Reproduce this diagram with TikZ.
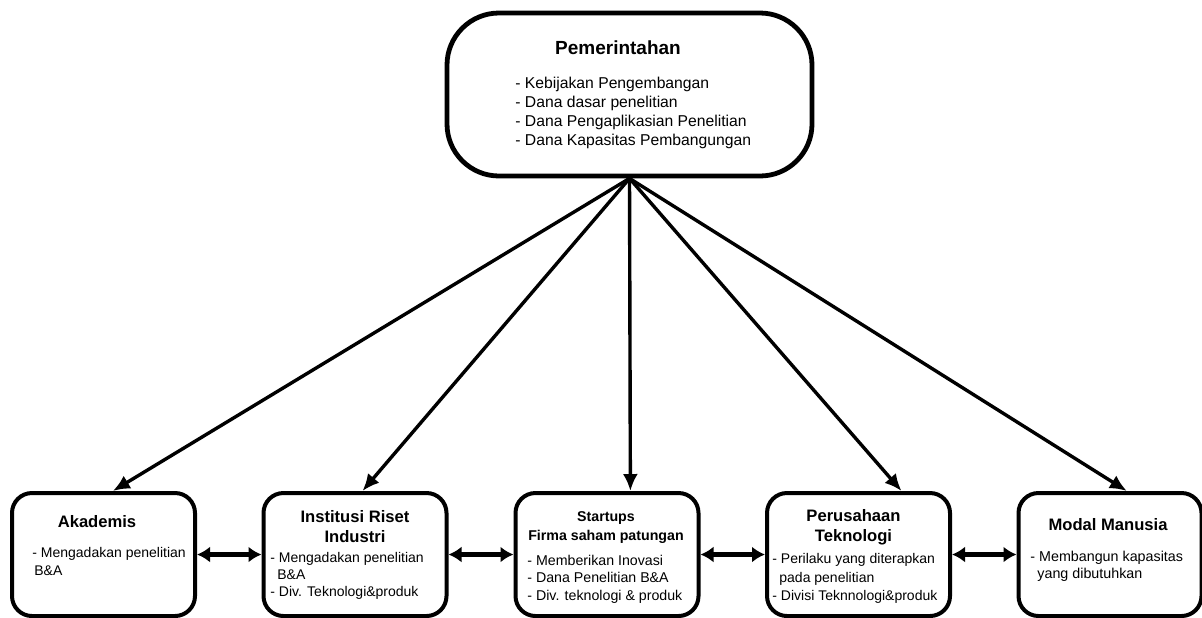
\documentclass[tikz,border=0pt]{standalone}
\usepackage{fontspec}
\setmainfont{Liberation Sans}
\usetikzlibrary{arrows.meta, calc}

\tikzset{
  govbox/.style={draw, line width=2.4pt, rounded corners=26pt,
    minimum width=182.5pt, minimum height=81.5pt, inner sep=0pt},
  unitbox/.style={draw, line width=2pt, rounded corners=10pt,
    minimum width=91.5pt, minimum height=61.5pt, inner sep=0pt},
  head/.style={font=\bfseries\fontsize{8.3}{10}\selectfont, align=center, inner sep=0pt},
  items/.style={font=\fontsize{7}{8.6}\selectfont, align=left, inner sep=0pt, anchor=west},
  down/.style={line width=1.7pt, -{Latex[length=8.5pt,width=7.5pt]}},
  link/.style={line width=2.2pt, {Latex[length=6.5pt,width=8pt]}-{Latex[length=6.5pt,width=8pt]}},
}
\newcommand{\ind}{\hspace*{3.5pt}}

\begin{document}
\begin{tikzpicture}[x=0.5pt, y=-0.5pt]
\useasboundingbox (0,0) rectangle (1202,617);

% top
\node[govbox] (gov) at (629.5,94.5) {};
\node[head, font=\bfseries\fontsize{9.5}{11}\selectfont] (govhead) at (618,48) {Pemerintahan};
\node[items, font=\fontsize{7.85}{9.5}\selectfont] (govlist) at (515,113)
  {- Kebijakan Pengembangan\\- Dana dasar penelitian\\- Dana Pengaplikasian Penelitian\\- Dana Kapasitas Pembangungan};

% units
\node[unitbox] (akad) at (103.5,554.5) {};
\node[unitbox] (riset) at (355,554.5) {};
\node[unitbox] (startup) at (607,554.5) {};
\node[unitbox] (tekno) at (858.5,554.5) {};
\node[unitbox] (modal) at (1110,554.5) {};

% unit texts
\node[head] (akadhead) at (97,522) {Akademis};
\node[items] (akadlist) at (32,561.5) {- Mengadakan penelitian\\\hspace*{1pt}B\&A};

\node[head] (risethead) at (355,527) {Institusi Riset\\Industri};
\node[items, font=\fontsize{7}{8.5}\selectfont] (risetlist) at (270,576)
  {- Mengadakan penelitian\\\ind B\&A\\- Div. Teknologi\&produk};

\node[head, font=\bfseries\fontsize{7.1}{9.5}\selectfont] (startuphead) at (606,527.5) {Startups\\Firma saham patungan};
\node[items, font=\fontsize{7.1}{8.75}\selectfont] (startuplist) at (527,579)
  {- Memberikan Inovasi\\- Dana Penelitian B\&A\\- Div. teknologi \& produk};

\node[head] (teknohead) at (853.5,527) {Perusahaan\\Teknologi};
\node[items, font=\fontsize{7}{9.2}\selectfont] (teknolist) at (772,578.5)
  {- Perilaku yang diterapkan\\\ind pada penelitian\\- Divisi Teknnologi\&produk};

\node[head] (modalhead) at (1108,525) {Modal Manusia};
\node[items, font=\fontsize{7.15}{8.6}\selectfont] (modallist) at (1030,566.5)
  {- Membangun kapasitas\\\ind yang dibutuhkan};

% links
\foreach \u/\p in {akad/0.55, riset/0.54, startup/0.625, tekno/0.73, modal/0.59}
  \draw[down] (gov.south) -- ($(\u.north west)!\p!(\u.north east)$);

\draw[link] (akad) -- (riset);
\draw[link] (riset) -- (startup);
\draw[link] (startup) -- (tekno);
\draw[link] (tekno) -- (modal);
\end{tikzpicture}
\end{document}
